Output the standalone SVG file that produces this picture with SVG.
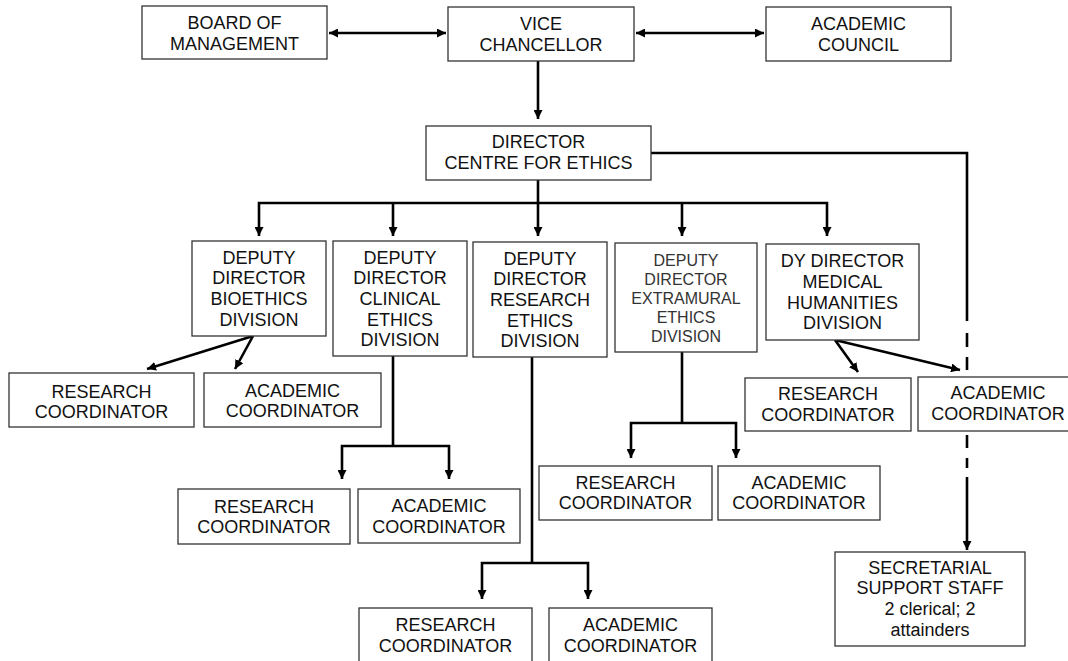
<svg xmlns="http://www.w3.org/2000/svg" width="1068" height="661" viewBox="0 0 1068 661">
<style>
.box{fill:#fff;stroke:#333;stroke-width:1.3}
.t{font-family:"Liberation Sans",Arial,sans-serif;font-size:18px;fill:#111;text-anchor:middle}
.ts{font-family:"Liberation Sans",Arial,sans-serif;font-size:16px;fill:#333;text-anchor:middle}
.c{fill:none;stroke:#000;stroke-width:2.6;stroke-linecap:butt;stroke-linejoin:miter}
</style>
<defs>
<marker id="ah" viewBox="0 0 10 10" refX="10" refY="5" markerWidth="9" markerHeight="9" markerUnits="userSpaceOnUse" orient="auto-start-reverse">
<path d="M0,0 L10,5 L0,10 Z" fill="#000"/>
</marker>
</defs>
<rect width="1068" height="661" fill="#fff"/>
<g id="connectors">
<line class="c" x1="329" y1="33" x2="446" y2="33" marker-start="url(#ah)" marker-end="url(#ah)"/>
<line class="c" x1="636" y1="33" x2="764" y2="33" marker-start="url(#ah)" marker-end="url(#ah)"/>
<line class="c" x1="538" y1="61" x2="538" y2="119" marker-end="url(#ah)"/>
<line class="c" x1="538" y1="180" x2="538" y2="236" marker-end="url(#ah)"/>
<polyline class="c" points="259,236 259,203 827,203 827,236" marker-start="url(#ah)" marker-end="url(#ah)"/>
<line class="c" x1="393" y1="203" x2="393" y2="236" marker-end="url(#ah)"/>
<line class="c" x1="682" y1="203" x2="682" y2="236" marker-end="url(#ah)"/>
<polyline class="c" points="651,153 967,153 967,321"/>
<path class="c" d="M967,333 V347 M967,357 V370 M967,435 V448 M967,458 V468"/>
<line class="c" x1="967" y1="477" x2="967" y2="550" marker-end="url(#ah)"/>
<line class="c" x1="253" y1="336" x2="147" y2="369" marker-end="url(#ah)"/>
<line class="c" x1="253" y1="336" x2="235" y2="369" marker-end="url(#ah)"/>
<line class="c" x1="393" y1="356" x2="393" y2="446"/>
<polyline class="c" points="342,479 342,446 449,446 449,479" marker-start="url(#ah)" marker-end="url(#ah)"/>
<line class="c" x1="532" y1="357" x2="532" y2="563"/>
<polyline class="c" points="482,599 482,563 588,563 588,599" marker-start="url(#ah)" marker-end="url(#ah)"/>
<line class="c" x1="682" y1="352" x2="682" y2="423"/>
<polyline class="c" points="631,458 631,423 736,423 736,458" marker-start="url(#ah)" marker-end="url(#ah)"/>
<line class="c" x1="835" y1="340" x2="858" y2="372" marker-end="url(#ah)"/>
<line class="c" x1="835" y1="340" x2="960" y2="370" marker-end="url(#ah)"/>
</g>
<g id="board"><rect class="box" x="142" y="6" width="185" height="53"/>
<text class="t" x="234.5" y="28.5">BOARD OF</text><text class="t" x="234.5" y="49.5">MANAGEMENT</text></g>
<g id="vc"><rect class="box" x="448" y="7" width="186" height="54"/>
<text class="t" x="541" y="29.5">VICE</text><text class="t" x="541" y="50.5">CHANCELLOR</text></g>
<g id="council"><rect class="box" x="766" y="7" width="185" height="54"/>
<text class="t" x="858.5" y="29.5">ACADEMIC</text><text class="t" x="858.5" y="50.5">COUNCIL</text></g>
<g id="director"><rect class="box" x="426" y="126" width="225" height="54"/>
<text class="t" x="538.5" y="147.5">DIRECTOR</text><text class="t" x="538.5" y="168.5">CENTRE FOR ETHICS</text></g>
<g id="dd-bioethics"><rect class="box" x="192" y="241" width="134" height="95"/>
<text class="t" x="259" y="263.5">DEPUTY</text><text class="t" x="259" y="284">DIRECTOR</text><text class="t" x="259" y="304.5">BIOETHICS</text><text class="t" x="259" y="325.5">DIVISION</text></g>
<g id="dd-clinical"><rect class="box" x="333" y="241" width="134" height="115"/>
<text class="t" x="400" y="263.5">DEPUTY</text><text class="t" x="400" y="284">DIRECTOR</text><text class="t" x="400" y="304.5">CLINICAL</text><text class="t" x="400" y="325.5">ETHICS</text><text class="t" x="400" y="346">DIVISION</text></g>
<g id="dd-research"><rect class="box" x="473" y="242" width="134" height="115"/>
<text class="t" x="540" y="264.5">DEPUTY</text><text class="t" x="540" y="285">DIRECTOR</text><text class="t" x="540" y="305.5">RESEARCH</text><text class="t" x="540" y="326.5">ETHICS</text><text class="t" x="540" y="347">DIVISION</text></g>
<g id="dd-extramural"><rect class="box" x="615" y="243" width="142" height="109"/>
<text class="ts" x="686" y="265.5">DEPUTY</text><text class="ts" x="686" y="284.5">DIRECTOR</text><text class="ts" x="686" y="303.5">EXTRAMURAL</text><text class="ts" x="686" y="322.5">ETHICS</text><text class="ts" x="686" y="341.5">DIVISION</text></g>
<g id="dd-medical"><rect class="box" x="766" y="244" width="153" height="96"/>
<text class="t" x="842.5" y="267">DY DIRECTOR</text><text class="t" x="842.5" y="288">MEDICAL</text><text class="t" x="842.5" y="308.5">HUMANITIES</text><text class="t" x="842.5" y="329">DIVISION</text></g>
<g id="bio-rc"><rect class="box" x="9" y="373" width="185" height="54"/>
<text class="t" x="101.5" y="397.5">RESEARCH</text><text class="t" x="101.5" y="417.5">COORDINATOR</text></g>
<g id="bio-ac"><rect class="box" x="204" y="373" width="177" height="54"/>
<text class="t" x="292.5" y="396.5">ACADEMIC</text><text class="t" x="292.5" y="416.5">COORDINATOR</text></g>
<g id="cli-rc"><rect class="box" x="178" y="489" width="172" height="55"/>
<text class="t" x="264" y="512.5">RESEARCH</text><text class="t" x="264" y="533">COORDINATOR</text></g>
<g id="cli-ac"><rect class="box" x="358" y="489" width="162" height="54"/>
<text class="t" x="439" y="511.5">ACADEMIC</text><text class="t" x="439" y="532.5">COORDINATOR</text></g>
<g id="res-rc"><rect class="box" x="359" y="608" width="173" height="60"/>
<text class="t" x="445.5" y="630.5">RESEARCH</text><text class="t" x="445.5" y="651.5">COORDINATOR</text></g>
<g id="res-ac"><rect class="box" x="549" y="608" width="163" height="60"/>
<text class="t" x="630.5" y="630.5">ACADEMIC</text><text class="t" x="630.5" y="651.5">COORDINATOR</text></g>
<g id="ext-rc"><rect class="box" x="539" y="466" width="173" height="54"/>
<text class="t" x="625.5" y="488.5">RESEARCH</text><text class="t" x="625.5" y="509">COORDINATOR</text></g>
<g id="ext-ac"><rect class="box" x="718" y="466" width="162" height="54"/>
<text class="t" x="799" y="488.5">ACADEMIC</text><text class="t" x="799" y="509">COORDINATOR</text></g>
<g id="med-rc"><rect class="box" x="745" y="378" width="166" height="53"/>
<text class="t" x="828" y="399.5">RESEARCH</text><text class="t" x="828" y="420.5">COORDINATOR</text></g>
<g id="med-ac"><rect class="box" x="918" y="377" width="160" height="54"/>
<text class="t" x="998" y="399">ACADEMIC</text><text class="t" x="998" y="420">COORDINATOR</text></g>
<g id="secretarial"><rect class="box" x="835" y="552" width="190" height="94"/>
<text class="t" x="930" y="573.5">SECRETARIAL</text><text class="t" x="930" y="594">SUPPORT STAFF</text><text class="t" x="930" y="615">2 clerical; 2</text><text class="t" x="930" y="635.5">attainders</text></g>
</svg>
